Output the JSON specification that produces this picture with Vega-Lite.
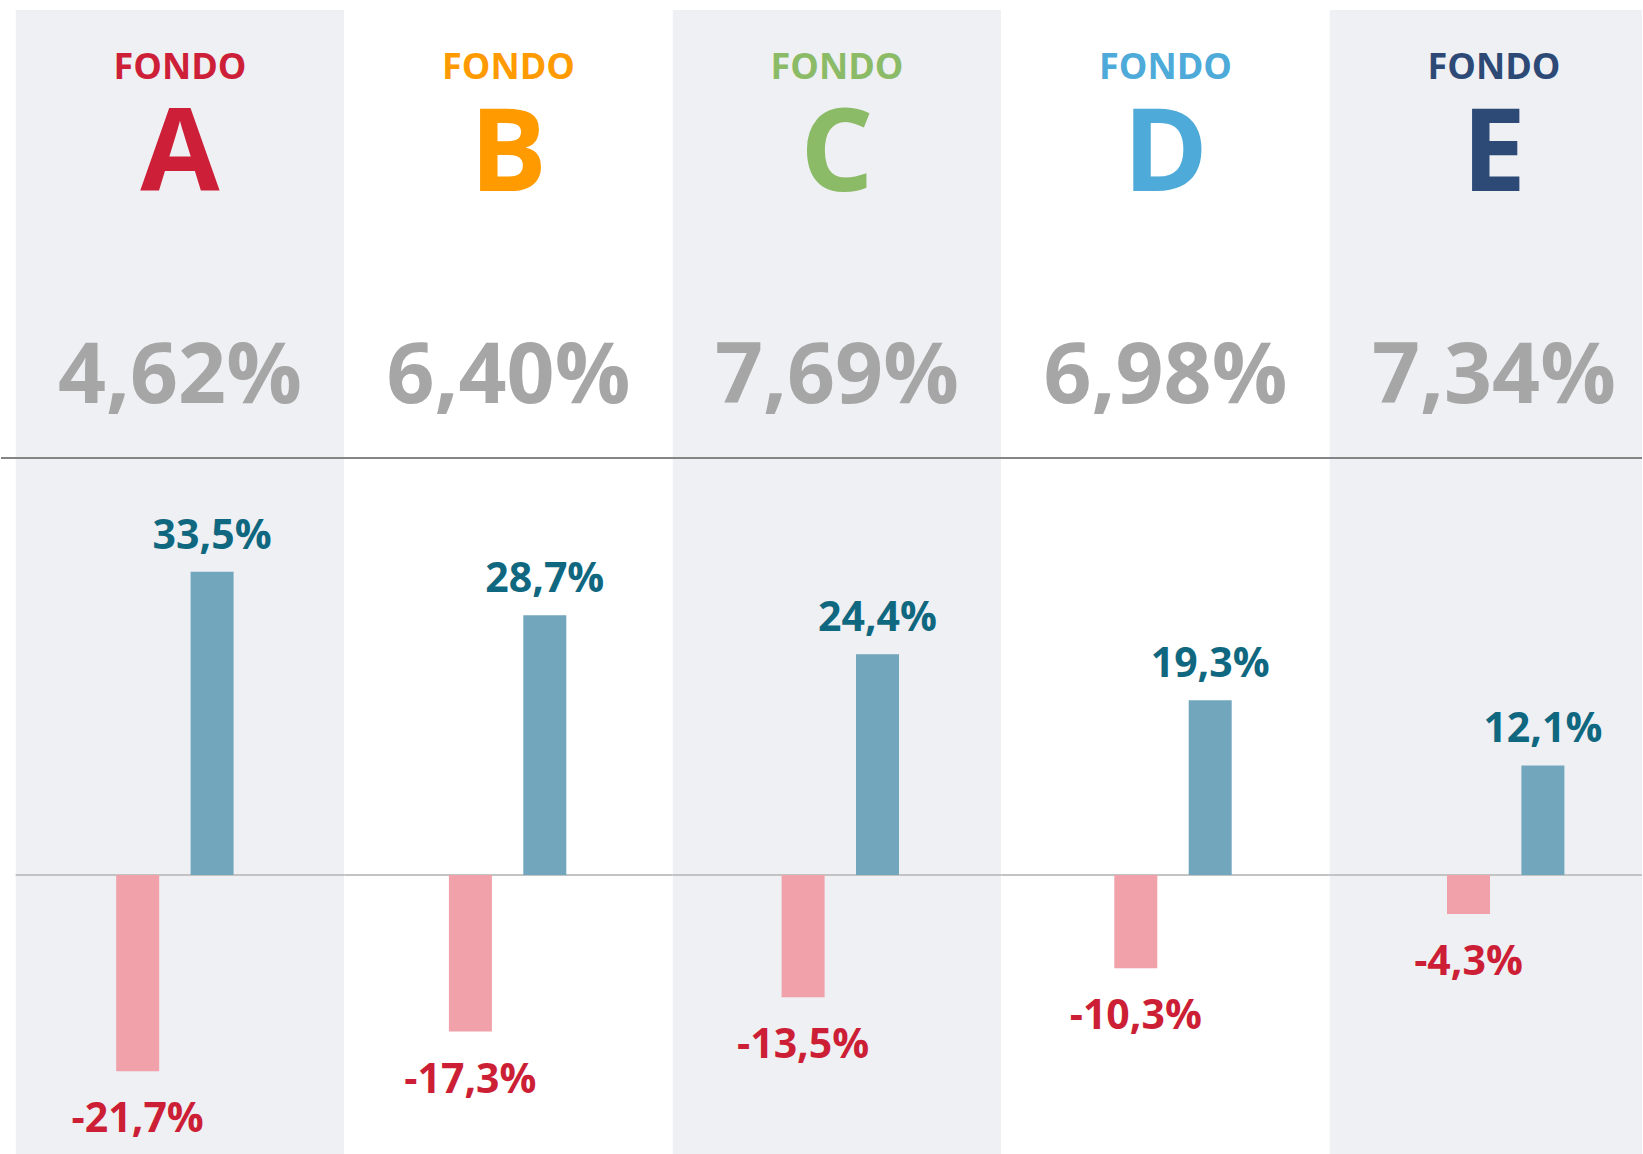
{
  "$schema": "https://vega.github.io/schema/vega-lite/v6.json",
  "width": 1643,
  "height": 1154,
  "autosize": {"type": "fit", "contains": "padding"},
  "padding": {"top": 10, "left": 0, "right": 0, "bottom": 0},
  "background": "white",
  "config": {
    "view": {"stroke": null},
    "locale": {"number": {"decimal": ",", "thousands": ".", "grouping": [3], "currency": ["", " €"], "minus": "-", "percent": "%"}},
    "text": {"font": "Open Sans", "fontWeight": "bold"}
  },
  "datasets": {
    "funds": [
      {"fund": "A", "ret": 0.0462},
      {"fund": "B", "ret": 0.0640},
      {"fund": "C", "ret": 0.0769},
      {"fund": "D", "ret": 0.0698},
      {"fund": "E", "ret": 0.0734}
    ],
    "bars": [
      {"fund": "A", "type": "min", "value": -0.217},
      {"fund": "A", "type": "max", "value": 0.335},
      {"fund": "B", "type": "min", "value": -0.173},
      {"fund": "B", "type": "max", "value": 0.287},
      {"fund": "C", "type": "min", "value": -0.135},
      {"fund": "C", "type": "max", "value": 0.244},
      {"fund": "D", "type": "min", "value": -0.103},
      {"fund": "D", "type": "max", "value": 0.193},
      {"fund": "E", "type": "min", "value": -0.043},
      {"fund": "E", "type": "max", "value": 0.121}
    ]
  },
  "layer": [
    {
      "data": {"name": "funds"},
      "mark": {"type": "rect", "clip": true},
      "encoding": {
        "x": {"field": "fund", "type": "nominal", "axis": null, "scale": {"domain": ["A", "B", "C", "D", "E"], "range": [14.7, 1657.2], "paddingInner": 0, "paddingOuter": 0}},
        "y": {"datum": 0.9558, "type": "quantitative", "axis": null, "scale": {"domain": [-0.3083, 0.9558], "nice": false, "zero": false}},
        "y2": {"datum": -0.3083},
        "color": {"condition": {"test": "datum.fund === 'B' || datum.fund === 'D'", "value": "#ffffff"}, "value": "#eff0f4"}
      }
    },
    {
      "data": {"name": "funds"},
      "mark": {"type": "rule", "clip": true, "color": "#c3c3c3", "strokeWidth": 2},
      "encoding": {
        "x": {"field": "fund", "type": "nominal", "axis": null, "bandPosition": 0, "scale": {"domain": ["A", "B", "C", "D", "E"], "range": [14.7, 1657.2], "paddingInner": 0, "paddingOuter": 0}},
        "x2": {"field": "fund", "bandPosition": 1},
        "y": {"datum": 0, "type": "quantitative", "axis": null}
      }
    },
    {
      "data": {"values": [{}]},
      "mark": {"type": "rule", "color": "#858585", "strokeWidth": 2},
      "encoding": {
        "y": {"datum": 0.4608, "type": "quantitative", "axis": null}
      }
    },
    {
      "data": {"name": "funds"},
      "mark": {"type": "text", "fontSize": 36, "baseline": "alphabetic", "align": "center"},
      "encoding": {
        "x": {"field": "fund", "type": "nominal", "axis": null, "scale": {"domain": ["A", "B", "C", "D", "E"], "range": [14.7, 1657.2], "paddingInner": 0, "paddingOuter": 0}},
        "y": {"datum": 0.8796, "type": "quantitative", "axis": null},
        "text": {"value": "FONDO"},
        "color": {"field": "fund", "type": "nominal", "legend": null, "scale": {"domain": ["A", "B", "C", "D", "E"], "range": ["#cd1f37", "#ff9b00", "#8cbb68", "#4eaad8", "#2d4a77"]}}
      }
    },
    {
      "data": {"name": "funds"},
      "mark": {"type": "text", "fontSize": 115, "baseline": "alphabetic", "align": "center"},
      "encoding": {
        "x": {"field": "fund", "type": "nominal", "axis": null, "scale": {"domain": ["A", "B", "C", "D", "E"], "range": [14.7, 1657.2], "paddingInner": 0, "paddingOuter": 0}},
        "y": {"datum": 0.7561, "type": "quantitative", "axis": null},
        "text": {"field": "fund"},
        "color": {"field": "fund", "type": "nominal", "legend": null, "scale": {"domain": ["A", "B", "C", "D", "E"], "range": ["#cd1f37", "#ff9b00", "#8cbb68", "#4eaad8", "#2d4a77"]}}
      }
    },
    {
      "data": {"name": "funds"},
      "mark": {"type": "text", "fontSize": 84, "baseline": "alphabetic", "align": "center", "color": "#a6a6a6"},
      "encoding": {
        "x": {"field": "fund", "type": "nominal", "axis": null, "scale": {"domain": ["A", "B", "C", "D", "E"], "range": [14.7, 1657.2], "paddingInner": 0, "paddingOuter": 0}},
        "y": {"datum": 0.5212, "type": "quantitative", "axis": null},
        "text": {"field": "ret", "type": "quantitative", "format": ".2%"}
      }
    },
    {
      "data": {"name": "bars"},
      "mark": {"type": "bar"},
      "encoding": {
        "x": {"field": "fund", "type": "nominal", "axis": null, "scale": {"domain": ["A", "B", "C", "D", "E"], "range": [7.55, 1671.05], "paddingInner": 0, "paddingOuter": 0}},
        "xOffset": {"field": "type", "type": "nominal", "scale": {"domain": ["min", "max"], "range": [107.65, 225.05], "paddingInner": 0.422, "paddingOuter": 0}},
        "y": {"field": "value", "type": "quantitative", "axis": null},
        "color": {"field": "type", "type": "nominal", "legend": null, "scale": {"domain": ["min", "max"], "range": ["#f0a1aa", "#72a6bd"]}}
      }
    },
    {
      "data": {"name": "bars"},
      "transform": [{"filter": "datum.value > 0"}],
      "mark": {"type": "text", "fontSize": 41, "baseline": "alphabetic", "align": "center", "dy": -23, "color": "#0f6880"},
      "encoding": {
        "x": {"field": "fund", "type": "nominal", "axis": null, "scale": {"domain": ["A", "B", "C", "D", "E"], "range": [7.55, 1671.05], "paddingInner": 0, "paddingOuter": 0}},
        "xOffset": {"field": "type", "type": "nominal", "scale": {"domain": ["min", "max"], "range": [107.65, 225.05], "paddingInner": 0.422, "paddingOuter": 0}},
        "y": {"field": "value", "type": "quantitative", "axis": null},
        "text": {"field": "value", "type": "quantitative", "format": ".1%"}
      }
    },
    {
      "data": {"name": "bars"},
      "transform": [{"filter": "datum.value < 0"}],
      "mark": {"type": "text", "fontSize": 41, "baseline": "alphabetic", "align": "center", "dy": 61, "color": "#cc1f36"},
      "encoding": {
        "x": {"field": "fund", "type": "nominal", "axis": null, "scale": {"domain": ["A", "B", "C", "D", "E"], "range": [7.55, 1671.05], "paddingInner": 0, "paddingOuter": 0}},
        "xOffset": {"field": "type", "type": "nominal", "scale": {"domain": ["min", "max"], "range": [107.65, 225.05], "paddingInner": 0.422, "paddingOuter": 0}},
        "y": {"field": "value", "type": "quantitative", "axis": null},
        "text": {"field": "value", "type": "quantitative", "format": ".1%"}
      }
    }
  ],
  "resolve": {"scale": {"x": "independent", "color": "independent"}}
}
